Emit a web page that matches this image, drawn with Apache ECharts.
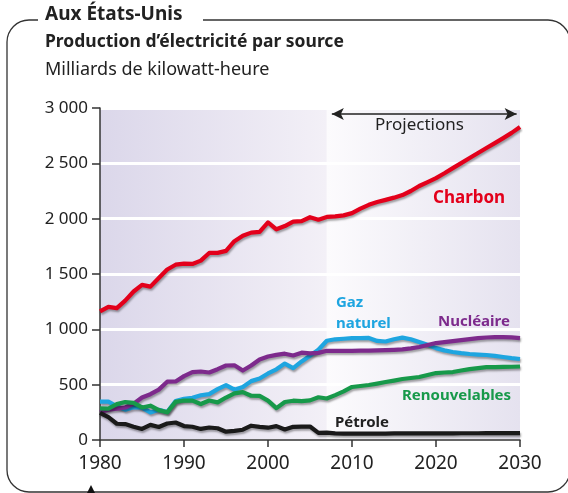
<!DOCTYPE html>
<html><head><meta charset="utf-8">
<script src="https://cdn.jsdelivr.net/npm/echarts@6/dist/echarts.min.js"></script>
<style>html,body{margin:0;padding:0;background:#fff}#c{width:568px;height:493px}</style>
</head><body><div id="c"></div>
<script>
const years = [];
for (let y = 1980; y <= 2030; y++) years.push(y);
const xTicks = [1980, 1990, 2000, 2010, 2020, 2030];
const yTickLabels = ['0', '500', '1 000', '1 500', '2 000', '2 500', '3 000'];

const coal = [1162,1203,1192,1259,1342,1402,1386,1464,1541,1584,1594,1591,1621,1690,1691,1709,1796,1845,1874,1881,1966,1904,1933,1974,1978,2013,1991,2016,
  2020,2030,2050,2090,2125,2150,2170,2190,2213,2250,2295,2330,2367,2410,2457,2502,2548,2593,2638,2683,2728,2775,2828];
const gas = [346,346,305,274,297,292,249,273,253,352,373,382,404,415,460,496,455,479,532,556,601,639,691,650,710,761,816,897,
  910,915,920,920,922,895,890,910,925,910,885,860,830,810,795,785,777,772,768,760,750,740,732];
const nuclear = [251,273,283,294,328,384,414,455,527,529,577,613,619,610,640,673,675,628,673,728,754,769,780,764,789,782,787,806,
  806,806,806,807,808,810,812,815,819,828,840,858,876,885,894,903,912,920,926,930,930,928,921];
const renew = [285,284,324,343,335,294,310,270,250,345,357,356,325,357,340,384,422,433,400,398,356,288,343,355,351,358,386,375,
  406,440,479,488,497,510,524,537,551,560,569,587,605,610,614,628,641,650,659,659,660,662,664];
const oil = [246,206,147,144,120,100,137,118,149,158,126,120,100,113,106,75,82,93,129,118,111,125,95,119,121,122,64,66,
  60,58,58,58,58,58,58,59,59,59,60,60,60,60,60,61,61,61,62,62,62,63,63];
const projStart = 2007, projEnd = 2030;
const arrowLevel = 2945;

const pairs = a => years.map((y, i) => [y, a[i]]);
const FONT = '"Noto Sans", sans-serif';
const shadow = {shadowColor: 'rgba(0,0,0,0.35)', shadowOffsetX: 1, shadowOffsetY: 2, shadowBlur: 2};
function lineSeries(name, data, color) {
  return {name, type: 'line', data: pairs(data), symbol: 'none', z: 3,
    lineStyle: Object.assign({color, width: 4.2, join: 'round'}, shadow)};
}
const chart = echarts.init(document.getElementById('c'), null, {renderer: 'canvas'});
chart.setOption({
  animation: false,
  grid: {left: 100, right: 48, top: 108, bottom: 53},
  xAxis: {type: 'value', min: 1980, max: 2030, interval: 10, z: 2,
    axisLine: {show: true, lineStyle: {color: '#333', width: 1.5}},
    axisTick: {show: true, length: 7, lineStyle: {color: '#333', width: 1.5}},
    axisLabel: {color: '#222', fontFamily: FONT, fontSize: 19, margin: 14, formatter: v => String(v)},
    splitLine: {show: false}},
  yAxis: {type: 'value', min: 0, max: 3000, interval: 500, z: 2,
    axisLine: {show: true, lineStyle: {color: '#333', width: 1.5}},
    axisTick: {show: true, length: 8, lineStyle: {color: '#333', width: 1.5}},
    axisLabel: {color: '#222', fontFamily: FONT, fontSize: 17, margin: 12,
      formatter: (v) => yTickLabels[Math.round(v / 500)]},
    splitLine: {show: true, lineStyle: {color: '#ffffff', width: 3}}},
  series: [
    {type: 'line', data: [], z: -1, silent: true,
      markArea: {silent: true, data: [
        [{xAxis: 1980, itemStyle: {color: {type: 'linear', x: 0, y: 0, x2: 1, y2: 0,
          colorStops: [{offset: 0, color: '#dbd7ea'}, {offset: 1, color: '#f3f0f7'}]}}}, {xAxis: projStart}],
        [{xAxis: projStart, itemStyle: {color: {type: 'linear', x: 0, y: 0, x2: 1, y2: 0,
          colorStops: [{offset: 0, color: '#fcfbfd'}, {offset: 1, color: '#e5e2ef'}]}}}, {xAxis: projEnd}]
      ]}},
    lineSeries('Charbon', coal, '#e3001b'),
    lineSeries('Gaz naturel', gas, '#1ea5e0'),
    lineSeries('Nucléaire', nuclear, '#7d2a8c'),
    lineSeries('Renouvelables', renew, '#17994a'),
    lineSeries('Pétrole', oil, '#1a1a1a'),
    {type: 'line', data: [], z: 4, silent: true,
      markLine: {silent: true, symbol: ['arrow', 'arrow'], symbolSize: [9, 12],
        label: {show: false}, lineStyle: {color: '#222', width: 1.5, type: 'solid'},
        data: [[{coord: [projStart + 0.6, arrowLevel]}, {coord: [projEnd - 0.4, arrowLevel]}]]}}
  ],
  graphic: [
    {type: 'rect', shape: {x: 7, y: 20, width: 563, height: 472, r: 22}, z: 0,
      style: {fill: 'none', stroke: '#333', lineWidth: 1.3}},
    {type: 'rect', shape: {x: 38, y: 12, width: 165, height: 16}, z: 1, style: {fill: '#fff'}},
    {type: 'text', left: 45, top: 5, z: 2, style: {text: 'Aux États-Unis', font: 'bold 19px "Noto Sans"', fill: '#222'}},
    {type: 'text', left: 45, top: 33, z: 2, style: {text: 'Production d’électricité par source', font: 'bold 17.5px "Noto Sans"', fill: '#222'}},
    {type: 'text', left: 45, top: 61, z: 2, style: {text: 'Milliards de kilowatt-heure', font: '18px "Noto Sans"', fill: '#222'}},
    {type: 'text', left: 375, top: 117, z: 5, style: {text: 'Projections', font: '17px "Noto Sans"', fill: '#222'}},
    {type: 'text', left: 433, top: 190, z: 5, style: {text: 'Charbon', font: 'bold 17px "Noto Sans"', fill: '#e3001b'}},
    {type: 'text', left: 336, top: 292, z: 5, style: {text: 'Gaz\nnaturel', font: 'bold 15px "Noto Sans"', lineHeight: 21, fill: '#1ea5e0'}},
    {type: 'text', left: 438, top: 314, z: 5, style: {text: 'Nucléaire', font: 'bold 15px "Noto Sans"', fill: '#7d2a8c'}},
    {type: 'text', left: 402, top: 388, z: 5, style: {text: 'Renouvelables', font: 'bold 15px "Noto Sans"', fill: '#17994a'}},
    {type: 'text', left: 335, top: 415, z: 5, style: {text: 'Pétrole', font: 'bold 15px "Noto Sans"', fill: '#222'}},
    {type: 'polygon', shape: {points: [[91, 485], [87, 493], [95, 493]]}, z: 5, style: {fill: '#111'}}
  ]
});
</script></body></html>
